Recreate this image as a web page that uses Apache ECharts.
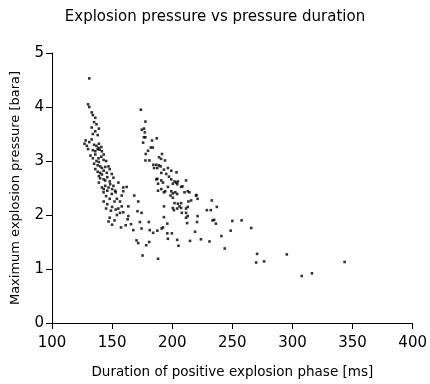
<!DOCTYPE html>
<html>
<head>
<meta charset="utf-8">
<script src="https://cdn.jsdelivr.net/npm/echarts@6/dist/echarts.min.js"></script>
<style>html,body{margin:0;padding:0;background:#fff}#c{width:430px;height:384px}</style>
</head>
<body>
<div id="c"></div>
<script>
const titleText = "Explosion pressure vs pressure duration";
const xName = "Duration of positive explosion phase [ms]";
const yName = "Maximum explosion pressure [bara]";
const xTicks = [100, 150, 200, 250, 300, 350, 400];
const yTicks = [0, 1, 2, 3, 4, 5];

// Left (short-duration) cluster: [duration ms, pressure bara]
const clusterShort = [
  [131,4.53],[130,4.05],[131,4.0],[133,3.9],[134,3.85],[136,3.8],[135,3.72],[137,3.68],[133,3.62],[139,3.6],
  [136,3.55],[134,3.5],[138,3.48],[128,3.38],[127,3.32],[129,3.28],[131,3.35],[133,3.4],[135,3.3],[137,3.28],
  [139,3.32],[141,3.26],[130,3.22],[134,3.2],[136,3.18],[138,3.22],
  [138.7,3.24],[139.6,3.21],[141.5,3.18],[142.9,3.02],[138.7,3.05],[140.1,2.9],[141.5,2.87],[144.3,2.89],[147,2.9],
  [140.1,2.78],[141.5,2.75],[145.6,2.78],[149.7,2.76],[142.9,2.66],[144.3,2.64],[151.1,2.69],[148.4,2.57],
  [144.3,2.54],[141.5,2.51],[147,2.51],[151.1,2.54],[152.5,2.45],[142.9,2.42],[149.7,2.39],
  [132,3.1],[134,3.05],[136,3.12],[137,3.0],[139,2.98],[141,3.08],[143,3.12],[135,2.95],[138,2.92],[145,3.0],
  [136,2.85],[138,2.8],[139,2.72],[143,2.82],[146,2.7],[148,2.85],[140,2.68],
  [139,2.6],[146,2.45],[148,2.62],[150,2.48],[153,2.42],[145,2.35],[143,2.48],
  [143,2.25],[146,2.2],[148,2.3],[150,2.15],[152,2.25],[154,2.3],[149,2.08],[145,2.12],[153,2.1],
  [148,1.95],[152,1.9],[150,1.82],[154,2.0],[147,1.88],
  [155.2,2.6],[159.3,2.51],[162.1,2.52],[159.3,2.44],[158,2.36],[168.4,2.36],[171.7,2.25],[156.6,2.25],
  [158,2.16],[155.2,2.12],[163.5,2.16],[159.3,2.05],[156.6,2.04],[163.5,1.98],[174.5,2.04],[171.1,2.07],
  [162.9,1.92],[173.1,1.87],[180.5,1.87],[165.7,1.83],[161.3,1.81],[157.4,1.77],[167.6,1.72],[174.5,1.75],
  [181.3,1.72],[184.1,1.67],[187.6,1.71],[192.3,1.77],[195.9,1.84],[195.9,1.66],[199.7,1.66],[196.4,1.56],
  [204.1,1.54],[205.2,1.43],[180.8,1.5],[178.3,1.44],[170.3,1.53],[171.7,1.48],[175.3,1.25],[188.2,1.19],
  [193.1,2.16],[193.1,1.96],[191.2,1.75]
];

// Right (longer-duration) cluster
const clusterLong = [
  [173.9,3.95],[177.7,3.73],[174.7,3.58],[176.6,3.6],[177.2,3.53],[176.4,3.44],[177.7,3.44],[187.1,3.42],
  [175.8,3.34],[183.2,3.38],[183.8,3.25],[182.2,3.25],[179.9,3.19],[178,3.13],[191.5,3.13],[189,3.07],
  [190.7,3.04],[177.7,3.01],[181,3.01],[194,3.01],[184.3,2.93],[186.8,2.93],[189,2.92],[184.9,2.87],
  [187.6,2.87],[190.4,2.9],[196.4,2.87],[193.1,2.84],[199.2,2.82],[203.6,2.79],[190.9,2.78],[195,2.76],
  [197.3,2.71],[187.6,2.67],[208.5,2.53],[220.1,2.37],
  [186.8,2.66],[188.2,2.58],[190.9,2.64],[192.3,2.6],[199.2,2.66],[200.5,2.58],[201.9,2.62],[203.3,2.6],
  [204.7,2.62],[204.1,2.57],[211.5,2.64],[196.4,2.52],[207.4,2.52],[188.2,2.45],[190.9,2.48],[193.1,2.42],
  [194.2,2.44],[199.2,2.44],[200.5,2.4],[202.5,2.42],[204.1,2.39],[198.6,2.36],[200.5,2.32],[210.2,2.42],
  [212.9,2.44],[214.3,2.42],[219.8,2.36],[221.1,2.3],[215.7,2.27],[213.5,2.25],[201.9,2.22],[204.7,2.21],
  [207.4,2.22],[206,2.16],[200.5,2.13],[204.1,2.12],[201.4,2.09],[207.4,2.13],[212.9,2.15],[211.5,2.12],
  [211.5,2.04],[208,2.04],[212.9,1.98],[211.5,1.95],[221.1,1.98],[220.6,1.87],[212.4,1.85],[228.8,2.09],
  [232.1,2.09],[232.9,2.27],[237.1,2.15],[233.5,1.9],[234.9,1.91],[236.3,1.84]
];

// Sparse long-duration tail
const clusterTail = [
  [214.8,1.52],[219,1.69],[223.9,1.55],[231,1.51],[240.9,1.61],[243.7,1.38],[248.6,1.71],[250,1.89],
  [257.7,1.9],[265.7,1.76],[270.6,1.28],[269.8,1.12],[276.4,1.14],[295.3,1.27],[307.7,0.87],[316.2,0.92],
  [343.4,1.13]
];

const font = "DejaVu Sans";
const chart = echarts.init(document.getElementById('c'), null, {renderer: 'canvas'});
const dotStyle = {type: 'scatter', symbol: 'rect', symbolSize: 2.6, itemStyle: {color: '#000'}, silent: true};
chart.setOption({
  animation: false,
  backgroundColor: '#fff',
  title: {text: titleText, left: 'center', top: 5,
    textStyle: {fontFamily: font, fontSize: 15, fontWeight: 'normal', color: '#000'}},
  grid: {left: 52, right: 13, top: 53, bottom: 56},
  xAxis: {
    type: 'value', min: xTicks[0], max: xTicks[xTicks.length-1], interval: 50,
    name: xName, nameLocation: 'middle', nameGap: 42,
    nameTextStyle: {fontFamily: font, fontSize: 13.5, color: '#000'},
    axisLine: {show: true, lineStyle: {color: '#000', width: 1}},
    axisTick: {show: true, inside: false, length: 6, lineStyle: {color: '#000'}},
    axisLabel: {fontFamily: font, fontSize: 15, color: '#000', margin: 13},
    splitLine: {show: false}
  },
  yAxis: {
    type: 'value', min: yTicks[0], max: yTicks[yTicks.length-1], interval: 1,
    name: yName, nameLocation: 'middle', nameGap: 30,
    nameTextStyle: {fontFamily: font, fontSize: 13, color: '#000'},
    axisLine: {show: true, lineStyle: {color: '#000', width: 1}},
    axisTick: {show: true, inside: false, length: 6, lineStyle: {color: '#000'}},
    axisLabel: {fontFamily: font, fontSize: 15, color: '#000', margin: 8},
    splitLine: {show: false}
  },
  series: [
    Object.assign({name: 'short', data: clusterShort}, dotStyle),
    Object.assign({name: 'long', data: clusterLong}, dotStyle),
    Object.assign({name: 'tail', data: clusterTail}, dotStyle)
  ]
});
</script>
</body>
</html>
